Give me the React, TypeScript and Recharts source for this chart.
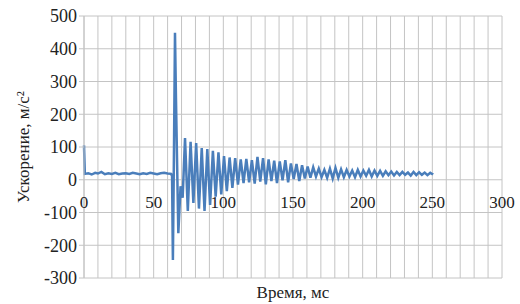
import { LineChart, Line, XAxis, YAxis, CartesianGrid } from "recharts";

// Время, мс — участок до удара
const baseTimes = [0, 0.6, 3, 5.5, 8, 10, 12.5, 15, 17.5, 20, 22.5, 25, 27.5, 30, 32.5, 35, 37.5, 40, 42.5, 45, 47.5, 50, 52.5, 55, 57.5, 60, 62.5];
const baseValues = [105, 18, 20, 16, 21, 19, 24, 17, 20, 18, 21, 17, 19, 20, 18, 21, 19, 17, 20, 18, 21, 19, 17, 20, 21, 19, 18];

// удар
const impactTimes = [63.2, 63.8, 64.6, 65.3, 66.0, 67.7, 69.3, 70.8];
const impactValues = [12, -245, 100, 449, 250, -163, -20, -55];

// затухающие колебания, отсчёты через ringStep мс
const ringStart = 72.5;
const ringStep = 2.0;
const ringValues = [
  127, -95, 116, -71, 112, -88, 97, -95, 94, -77,
  88, -52, 84, -45, 72, -35, 68, -25, 66, -15,
  62, -10, 64, -8, 60, -12, 70, -6, 66, -14,
  62, -4, 58, -10, 56, -2, 60, -8, 50, 2,
  48, -4, 44, 4, 40, 6, 38, 10, 34, 8,
  30, 6, 34, 4, 36, 6, 32, 8, 30, 10,
  28, 8, 30, 10, 28, 12, 30, 10, 28, 12,
  27, 12, 26, 14, 25, 13, 24, 14, 24, 15,
  22, 13, 24, 14, 23, 15, 22, 14, 21, 16,
];
const endTime = 250;
const endValue = 18;

const xTicks = [0, 10, 20, 30, 40, 50, 60, 70, 80, 90, 100, 110, 120, 130, 140, 150, 160, 170, 180, 190, 200, 210, 220, 230, 240, 250, 260, 270, 280, 290, 300];
const yTicks = [-300, -200, -100, 0, 100, 200, 300, 400, 500];

const data = [
  ...baseTimes.map((t, i) => ({ t, v: baseValues[i] })),
  ...impactTimes.map((t, i) => ({ t, v: impactValues[i] })),
  ...ringValues.map((v, i) => ({ t: +(ringStart + i * ringStep).toFixed(2), v })),
  { t: endTime, v: endValue },
];

const font = "'Liberation Serif', 'Times New Roman', serif";
const grid = "#c4c4c4";

function XTick(props: any) {
  const { x, y, payload } = props;
  if (payload.value % 50 !== 0) return null;
  // подписи оси X стоят под нулевой линией
  return (
    <text x={x} y={y - 78} textAnchor="middle" fontFamily={font} fontSize={17} fill="#222">
      {payload.value}
    </text>
  );
}

export default function App() {
  return (
    <div style={{ position: "absolute", left: 0, top: 0, background: "#fff" }}>
      <LineChart
        width={520}
        height={304}
        data={data}
        margin={{ top: 16, right: 18, bottom: 6, left: 30 }}
      >
        <CartesianGrid stroke={grid} strokeWidth={1} />
        <XAxis
          dataKey="t"
          type="number"
          domain={[0, 300]}
          ticks={xTicks}
          interval={0}
          axisLine={false}
          tickLine={false}
          height={20}
          tick={<XTick />}
          label={{
            value: "Время, мс",
            position: "insideBottom",
            offset: 0,
            fontFamily: font,
            fontSize: 17,
            fill: "#222",
          }}
        />
        <YAxis
          type="number"
          domain={[-300, 500]}
          ticks={yTicks}
          interval={0}
          width={54}
          axisLine={{ stroke: grid }}
          tickLine={{ stroke: grid }}
          tickSize={5}
          tick={{ fontFamily: font, fontSize: 18, fill: "#222" }}
          label={{
            value: "Ускорение, м/с²",
            angle: -90,
            position: "insideLeft",
            offset: 0,
            dx: -7,
            style: { textAnchor: "middle" },
            fontFamily: font,
            fontSize: 17,
            fill: "#222",
          }}
        />
        <Line
          type="linear"
          dataKey="v"
          stroke="#4A7EBB"
          strokeWidth={2.5}
          dot={false}
          isAnimationActive={false}
        />
      </LineChart>
    </div>
  );
}
